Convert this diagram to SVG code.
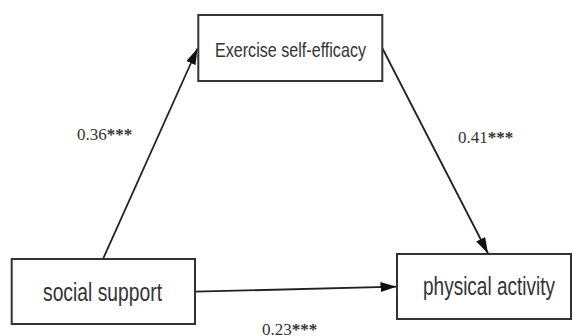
<svg xmlns="http://www.w3.org/2000/svg" width="573" height="336" viewBox="0 0 573 336">
<style>
.box{fill:#fff;stroke:#333;stroke-width:2}
.lbl{font-family:"Liberation Sans",Arial,sans-serif;fill:#333}
.coef{font-family:"Liberation Serif","Times New Roman",serif;font-size:17px;fill:#333}
.ast{font-weight:bold}
.conn{stroke:#222;stroke-width:1.8;fill:none}
</style>
<defs>
<marker id="arr" viewBox="0 0 16 10" refX="16" refY="5" markerWidth="16" markerHeight="10" markerUnits="userSpaceOnUse" orient="auto">
<path d="M0,0 L16,5 L0,10 z" fill="#111"/>
</marker>
</defs>
<rect width="573" height="336" fill="#fff"/>
<g id="connectors">
<line class="conn" x1="103" y1="259" x2="197.5" y2="48.5" marker-end="url(#arr)"/>
<line class="conn" x1="382.5" y1="48.5" x2="488" y2="253.5" marker-end="url(#arr)"/>
<line class="conn" x1="195" y1="291.7" x2="396.5" y2="286.7" marker-end="url(#arr)"/>
</g>
<g id="node-efficacy">
<rect class="box" x="198.3" y="15" width="184" height="66"/>
<text class="lbl" x="215" y="56.7" font-size="21" textLength="151" lengthAdjust="spacingAndGlyphs">Exercise self-efficacy</text>
</g>
<g id="node-social">
<rect class="box" x="11.7" y="259" width="183.3" height="65"/>
<text class="lbl" x="43" y="301" font-size="25.5" textLength="119" lengthAdjust="spacingAndGlyphs">social support</text>
</g>
<g id="node-activity">
<rect class="box" x="397" y="254" width="174" height="65"/>
<text class="lbl" x="423" y="295" font-size="25.5" textLength="132" lengthAdjust="spacingAndGlyphs">physical activity</text>
</g>
<g id="labels">
<text class="coef" x="77" y="140">0.36<tspan class="ast">***</tspan></text>
<text class="coef" x="458" y="143">0.41<tspan class="ast">***</tspan></text>
<text class="coef" x="262" y="335">0.23<tspan class="ast">***</tspan></text>
</g>
</svg>
